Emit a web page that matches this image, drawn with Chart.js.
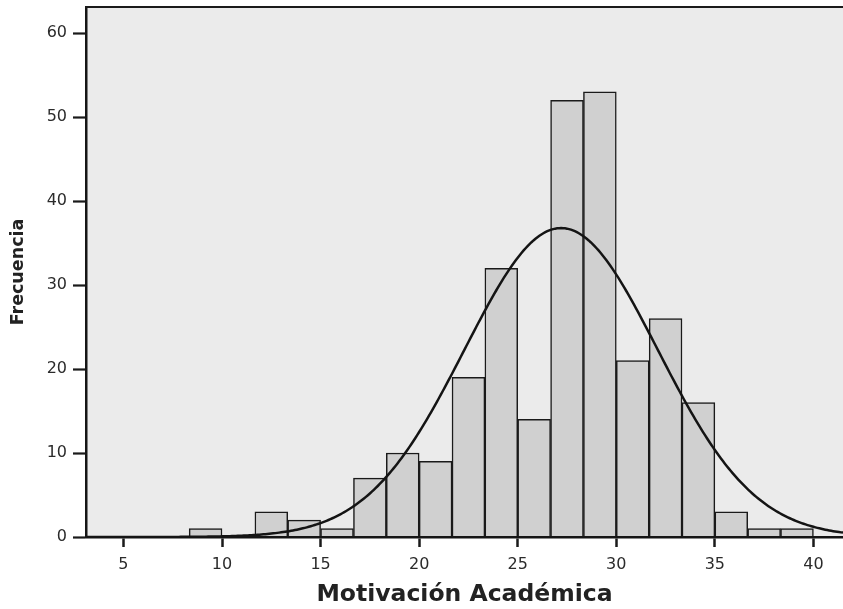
<!DOCTYPE html>
<html>
<head>
<meta charset="utf-8">
<script src="https://cdn.jsdelivr.net/npm/chart.js@4"></script>
<style>
  html, body { margin: 0; padding: 0; background: #ffffff; }
  #wrap { width: 843px; height: 609px; }
</style>
</head>
<body>
<div id="wrap"><canvas id="chart" width="843" height="609"></canvas></div>
<script>
// Histogram bins (lower edge of each bin) and their frequencies
const binLower = [8.333, 10, 11.667, 13.333, 15, 16.667, 18.333, 20, 21.667, 23.333,
                  25, 26.667, 28.333, 30, 31.667, 33.333, 35, 36.667, 38.333];
const binWidth = 1.667;
const counts = [1, 0, 3, 2, 1, 7, 10, 9, 19, 32, 14, 52, 53, 21, 26, 16, 3, 1, 1];

// Axis tick values
const xTickValues = [5, 10, 15, 20, 25, 30, 35, 40];
const yTickValues = [0, 10, 20, 30, 40, 50, 60];

// Fitted normal curve parameters
const curveMean = 27.2;
const curveSd = 4.9;

const xMin = 3.1, xMax = 41.5, yMax = 63.1;

const barData = binLower.map((lo, i) => ({ x: lo + binWidth / 2, y: counts[i] }));

// Expected frequency per bin under the fitted normal
const total = counts.reduce((a, b) => a + b, 0);
const curveData = [];
for (let x = xMin; x <= xMax + 1e-9; x += 0.1) {
  const z = (x - curveMean) / curveSd;
  const y = total * binWidth * Math.exp(-0.5 * z * z) / (curveSd * Math.sqrt(2 * Math.PI));
  curveData.push({ x: x, y: y });
}

// Grey plotting area and top frame line
const plotFrame = {
  id: 'plotFrame',
  beforeDraw(chart) {
    const { ctx, chartArea: a } = chart;
    ctx.save();
    ctx.fillStyle = '#ebebeb';
    ctx.fillRect(a.left, a.top, chart.width - a.left, a.bottom - a.top);
    ctx.restore();
  },
  afterDraw(chart) {
    const { ctx, chartArea: a } = chart;
    ctx.save();
    ctx.strokeStyle = '#1a1a1a';
    ctx.lineWidth = 2;
    ctx.beginPath();
    ctx.moveTo(a.left - 1, a.top);
    ctx.lineTo(chart.width, a.top);
    ctx.stroke();
    ctx.restore();
  }
};

const tickFont = { family: 'DejaVu Sans', size: 16 };

new Chart(document.getElementById('chart'), {
  type: 'bar',
  data: {
    datasets: [
      {
        type: 'line',
        data: curveData,
        borderColor: '#141414',
        borderWidth: 2.5,
        pointRadius: 0,
        fill: false,
        tension: 0,
        order: 0
      },
      {
        type: 'bar',
        data: barData,
        backgroundColor: '#d0d0d0',
        borderColor: '#1a1a1a',
        borderWidth: 1.5,
        barPercentage: 1,
        categoryPercentage: 1,
        order: 1
      }
    ]
  },
  options: {
    responsive: false,
    animation: false,
    layout: { padding: { top: 7, right: 0, bottom: 0, left: 0 } },
    plugins: { legend: { display: false }, tooltip: { enabled: false } },
    scales: {
      x: {
        type: 'linear',
        min: xMin,
        max: xMax,
        offset: false,
        afterBuildTicks: s => { s.ticks = xTickValues.map(v => ({ value: v })); },
        afterFit: s => { s.height = 72; s.paddingLeft = 0; s.paddingRight = 0; },
        grid: {
          offset: false,
          drawOnChartArea: false,
          drawTicks: true,
          tickLength: 10,
          tickWidth: 2.5,
          tickColor: '#1a1a1a'
        },
        border: { display: true, color: '#151515', width: 2.5, z: 1 },
        ticks: { padding: 8, color: '#2b2b2b', font: tickFont, maxRotation: 0, autoSkip: false },
        title: {
          display: true,
          text: 'Motivación Académica',
          color: '#222222',
          font: { family: 'DejaVu Sans', size: 23.5, weight: 'bold' },
          padding: { top: 0, bottom: 0 }
        }
      },
      y: {
        min: 0,
        max: yMax,
        afterBuildTicks: s => { s.ticks = yTickValues.map(v => ({ value: v })); },
        afterFit: s => { s.width = 86; s.paddingTop = 0; s.paddingBottom = 0; },
        grid: {
          drawOnChartArea: false,
          drawTicks: true,
          tickLength: 13,
          tickWidth: 2.2,
          tickColor: '#1a1a1a'
        },
        border: { display: true, color: '#151515', width: 2.5, z: 1 },
        ticks: { padding: 6, color: '#2b2b2b', font: tickFont },
        title: {
          display: true,
          text: 'Frecuencia',
          color: '#222222',
          font: { family: 'DejaVu Sans', size: 17.5, weight: 'bold' },
          padding: { top: 8, bottom: 0 }
        }
      }
    }
  },
  plugins: [plotFrame]
});
</script>
</body>
</html>
